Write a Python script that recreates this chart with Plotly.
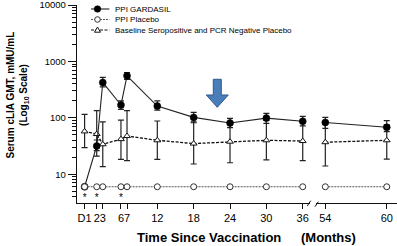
import plotly.graph_objects as go

# ---------------- data ----------------
months = [0, 2, 3, 6, 7, 12, 18, 24, 30, 36, 54, 60]
gardasil = [6, 31.7, 425, 169, 556, 162, 102, 81, 99, 87, 83, 68]
gardasil_hi = [6, 40.5, 521, 201, 638, 201, 125, 98, 120, 106, 102, 89]
gardasil_lo = [6, 26.2, 355, 141, 479, 137, 82, 67, 80, 72, 65, 57]
placebo = [6, 6, 6, 6, 6, 6, 6, 6, 6, 6, 6, 6]
baseline = [57.6, 51.7, 34, 42, 47.6, 40, 35, 37.8, 40, 38.8, 37, 40]
baseline_hi = [115, 134, 85, 91, 134, 88, 85, 80, 90, 85, 85, 75]
baseline_lo = [29.6, 21, 13.6, 18.4, 17.4, 18.4, 15.2, 16, 18, 17.4, 14, 18.5]
star_months = [0, 2, 6]
star_level = 3.75

left_ticks = [0, 2, 3, 6, 7, 12, 18, 24, 30, 36]
left_labels = ["D1", "2", "3", "6", "7", "12", "18", "24", "30", "36"]
right_ticks = [54, 60]
right_labels = ["54", "60"]
y_ticks = [10, 100, 1000, 10000]
y_labels = ["10", "100", "1000", "10000"]
y_minor = [m * d for d in (1, 10, 100, 1000) for m in range(2, 10)] + [4, 5, 6, 7, 8, 9]
BREAK = 36

names = ["PPI GARDASIL", "PPI Placebo", "Baseline Seropositive and PCR Negative Placebo"]

# ---------------- layout geometry ----------------
W, H = 397, 246
L, R, T, B = 77, 0, 5, 43
PW, PH = W - L - R, H - T - B
FONT = "Liberation Sans, Arial, sans-serif"


def px_x(p):
    return (p - L) / PW


def px_y(p):
    return (H - B - p) / PH


fig = go.Figure()


def split(vals):
    a = [v for m, v in zip(months, vals) if m <= BREAK]
    b = [v for m, v in zip(months, vals) if m > BREAK]
    return a, b


ma, mb = split(months)


def add_series(vals, hi, lo, name, marker, line, err):
    va, vb = split(vals)
    for xs, ys, xa in ((ma, va, "x"), (mb, vb, "x2")):
        kw = {}
        if hi is not None:
            ha, hb = split(hi)
            la, lb = split(lo)
            h = ha if xa == "x" else hb
            l = la if xa == "x" else lb
            kw["error_y"] = dict(type="data", symmetric=False,
                                 array=[hh - y for hh, y in zip(h, ys)],
                                 arrayminus=[y - ll for ll, y in zip(l, ys)],
                                 **err)
        fig.add_trace(go.Scatter(x=xs, y=ys, xaxis=xa, yaxis="y", mode="lines+markers",
                                 name=name, showlegend=False, hoverinfo="skip",
                                 marker=marker, line=line, cliponaxis=False, **kw))


err_style = dict(color="#222", thickness=1.2, width=3)
add_series(baseline, baseline_hi, baseline_lo, names[2],
           dict(symbol="triangle-up", size=6, color="white", line=dict(color="#111", width=1)),
           dict(color="#111", width=1.3, dash="3px,1.5px"), err_style)
add_series(gardasil, gardasil_hi, gardasil_lo, names[0],
           dict(symbol="circle", size=7, color="black", line=dict(color="black", width=0.5)),
           dict(color="#222", width=1.1), err_style)
add_series(placebo, None, None, names[1],
           dict(symbol="circle", size=6, color="white", line=dict(color="#333", width=1)),
           dict(color="#555", width=1, dash="2px,1px"), err_style)

fig.add_trace(go.Scatter(x=star_months, y=[star_level] * len(star_months), xaxis="x", yaxis="y",
                         mode="text", text=["*"] * len(star_months), showlegend=False,
                         hoverinfo="skip",
                         textfont=dict(size=10, color="black", family=FONT), cliponaxis=False))

axis_common = dict(showline=True, linecolor="#111", linewidth=1.2, ticks="outside",
                   tickcolor="#111", tickwidth=1, showgrid=False, zeroline=False,
                   automargin=False, tickangle=0,
                   tickfont=dict(size=11, color="black", family=FONT))

fig.update_layout(
    template="none",
    font=dict(family=FONT, color="black"),
    width=W, height=H, autosize=False,
    margin=dict(l=L, r=R, t=T, b=B, pad=0),
    paper_bgcolor="white", plot_bgcolor="white",
    showlegend=False,
    xaxis=dict(domain=[0, px_x(310)], range=[-1.255, 37.2], tickmode="array",
               tickvals=left_ticks, ticktext=left_labels, ticklen=5, anchor="y", **axis_common),
    xaxis2=dict(domain=[px_x(316), 1], range=[53.09, 61.0], tickmode="array",
                tickvals=right_ticks, ticktext=right_labels, ticklen=5, anchor="y", **axis_common),
    yaxis=dict(type="log", range=[0.49, 4.002], tickmode="array", tickvals=y_ticks,
               ticktext=y_labels, ticklen=8, anchor="x",
               minor=dict(ticks="outside", ticklen=4, tickcolor="#111", showgrid=False,
                          tickmode="array", tickvals=y_minor, tickwidth=1),
               **{**axis_common, "tickfont": dict(size=9.5, color="black", family=FONT)}),
)

shapes = []
annotations = []

# axis break marks
for (x0, y0, x1, y1) in [(307.3, 206, 310.7, 200.7), (315, 206.7, 318.3, 201.7)]:
    shapes.append(dict(type="line", xref="paper", yref="paper",
                       x0=px_x(x0), y0=px_y(y0), x1=px_x(x1), y1=px_y(y1),
                       line=dict(color="#111", width=1)))

# blue arrow
arrow_pts = [(213.3, 79.3), (221.3, 79.3), (221.3, 95), (228.3, 95), (217.3, 107.3),
             (206.3, 95), (213.3, 95)]
path = "M " + " L ".join(f"{px_x(a):.4f},{px_y(b):.4f}" for a, b in arrow_pts) + " Z"
shapes.append(dict(type="path", xref="paper", yref="paper", path=path,
                   fillcolor="#4a7ebb", line=dict(color="#30598c", width=1)))

# manual legend (compact rows)
rows_y = [9, 19.5, 30]
leg_line = [dict(color="#222", width=1.1, dash="solid"),
            dict(color="#555", width=1, dash="2px,1px"),
            dict(color="#111", width=1.2, dash="3px,1.5px")]
for i, ry in enumerate(rows_y):
    shapes.append(dict(type="line", xref="paper", yref="paper", x0=px_x(91), x1=px_x(109.3),
                       y0=px_y(ry), y1=px_y(ry), line=leg_line[i]))
    if i == 0:
        shapes.append(dict(type="circle", xref="paper", yref="paper", xsizemode="pixel",
                           ysizemode="pixel", xanchor=px_x(97.5), yanchor=px_y(ry),
                           x0=-3.3, x1=3.3, y0=-3.3, y1=3.3, fillcolor="black",
                           line=dict(color="black", width=0.5)))
    elif i == 1:
        shapes.append(dict(type="circle", xref="paper", yref="paper", xsizemode="pixel",
                           ysizemode="pixel", xanchor=px_x(97.5), yanchor=px_y(ry),
                           x0=-2.8, x1=2.8, y0=-2.8, y1=2.8, fillcolor="white",
                           line=dict(color="#333", width=1)))
    else:
        shapes.append(dict(type="path", xref="paper", yref="paper", xsizemode="pixel",
                           ysizemode="pixel", xanchor=px_x(97.5), yanchor=px_y(ry),
                           path="M -3,-2.2 L 3,-2.2 L 0,3 Z", fillcolor="white",
                           line=dict(color="#111", width=1)))
    annotations.append(dict(xref="paper", yref="paper", x=px_x(112.5), y=px_y(ry),
                            xanchor="left", yanchor="middle", showarrow=False, text=names[i],
                            font=dict(size=8, color="black", family=FONT)))

# axis titles
annotations.append(dict(xref="paper", yref="paper", x=px_x(17), y=px_y(95.5),
                        xanchor="center", yanchor="middle", showarrow=False, textangle=-90,
                        text="<b>Serum cLIA GMT, mMU/mL<br>(Log<sub>10</sub> Scale)</b>",
                        font=dict(size=10, color="black", family=FONT)))
annotations.append(dict(xref="paper", yref="paper", x=px_x(135), y=px_y(237.5),
                        xanchor="left", yanchor="middle", showarrow=False,
                        text="<b>Time Since Vaccination</b>",
                        font=dict(size=13, color="black", family=FONT)))
annotations.append(dict(xref="paper", yref="paper", x=px_x(299.3), y=px_y(237.5),
                        xanchor="left", yanchor="middle", showarrow=False,
                        text="<b>(Months)</b>",
                        font=dict(size=13, color="black", family=FONT)))

fig.update_layout(shapes=shapes, annotations=annotations)
fig.write_html("out.html", config={"displayModeBar": False, "staticPlot": True},
               post_script="document.body.style.margin='0';document.body.style.overflow='hidden';")
